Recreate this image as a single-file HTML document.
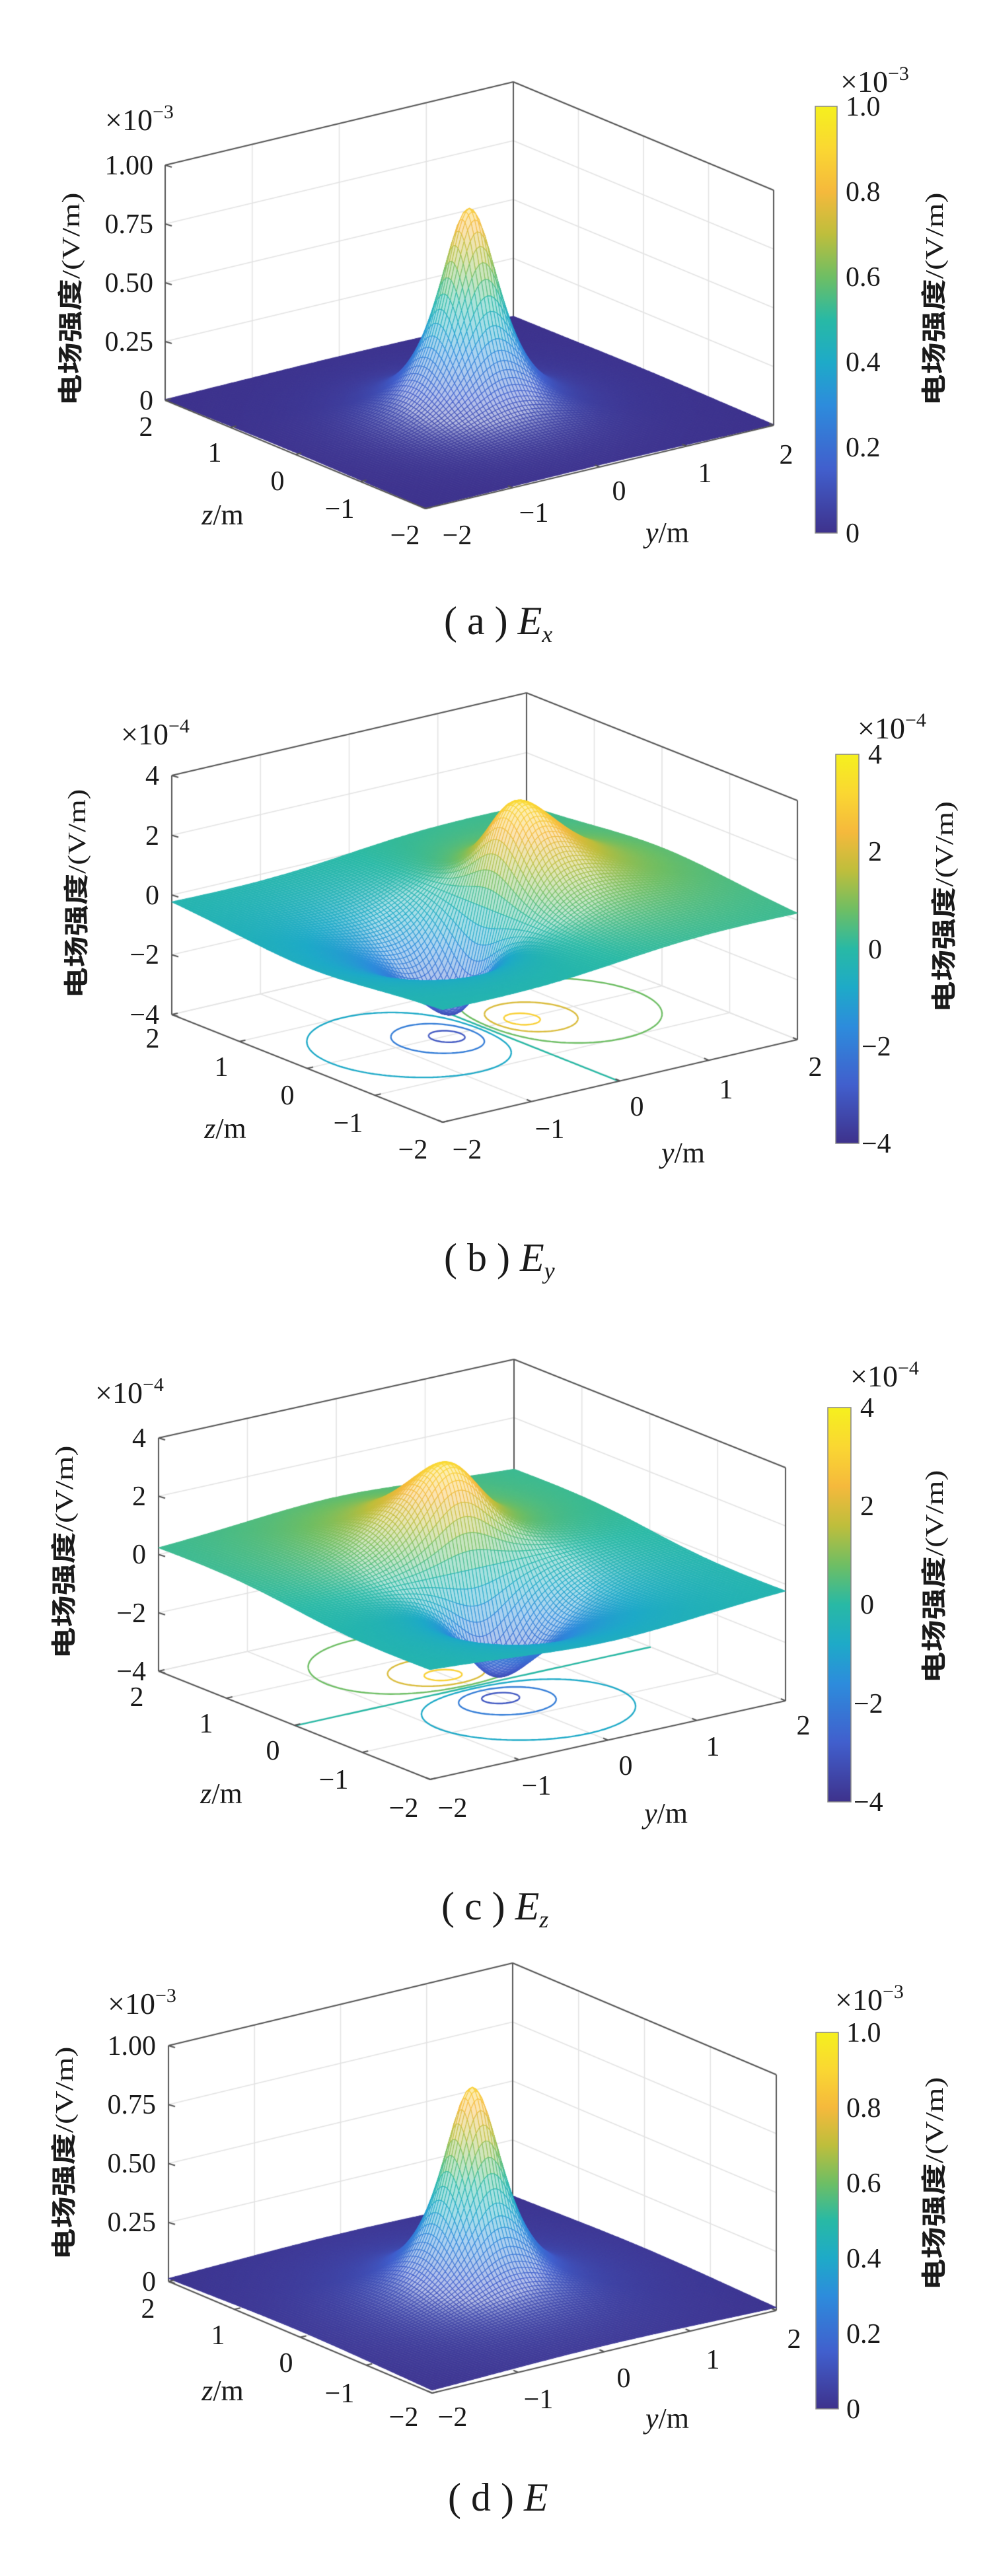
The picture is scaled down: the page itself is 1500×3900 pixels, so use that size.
<!DOCTYPE html>
<html><head><meta charset="utf-8">
<style>
html,body{margin:0;padding:0;background:#fff;}
#wrap{position:relative;width:1500px;height:3900px;overflow:hidden;}
canvas,svg{position:absolute;left:0;top:0;}
text{font-family:"Liberation Serif","Noto Serif CJK SC",serif;fill:#1a1a1a;}
.cj{font-family:"Liberation Sans","Noto Sans CJK SC",sans-serif;font-weight:bold;}
</style></head>
<body><div id="wrap">
<canvas id="c" width="1500" height="3900"></canvas>
<svg id="s" width="1500" height="3900" xmlns="http://www.w3.org/2000/svg">
<defs>
<linearGradient id="par" x1="0" y1="1" x2="0" y2="0">
<stop offset="0" stop-color="rgb(62,50,140)"/>
<stop offset="0.15" stop-color="rgb(65,95,205)"/>
<stop offset="0.3" stop-color="rgb(45,140,220)"/>
<stop offset="0.4" stop-color="rgb(30,170,200)"/>
<stop offset="0.5" stop-color="rgb(40,185,165)"/>
<stop offset="0.6" stop-color="rgb(110,190,100)"/>
<stop offset="0.7" stop-color="rgb(190,190,60)"/>
<stop offset="0.8" stop-color="rgb(245,185,60)"/>
<stop offset="0.9" stop-color="rgb(250,215,50)"/>
<stop offset="1" stop-color="rgb(245,240,30)"/>
</linearGradient>
</defs>

<rect x="1234" y="161" width="33" height="646" fill="url(#par)" stroke="#888" stroke-width="1.5"/>
<rect x="1265" y="1142" width="35" height="589" fill="url(#par)" stroke="#888" stroke-width="1.5"/>
<rect x="1253" y="2131" width="35" height="597" fill="url(#par)" stroke="#888" stroke-width="1.5"/>
<rect x="1235" y="3077" width="34" height="570" fill="url(#par)" stroke="#888" stroke-width="1.5"/>

<g font-size="42">
<text x="1280" y="175">1.0</text><text x="1280" y="304">0.8</text><text x="1280" y="433">0.6</text>
<text x="1280" y="562">0.4</text><text x="1280" y="691">0.2</text><text x="1280" y="821">0</text>
<text x="1314" y="1156">4</text><text x="1314" y="1303">2</text><text x="1314" y="1451">0</text>
<text x="1304" y="1598">−2</text><text x="1304" y="1745">−4</text>
<text x="1302" y="2145">4</text><text x="1302" y="2294">2</text><text x="1302" y="2443">0</text>
<text x="1292" y="2593">−2</text><text x="1292" y="2742">−4</text>
<text x="1281" y="3091">1.0</text><text x="1281" y="3205">0.8</text><text x="1281" y="3319">0.6</text>
<text x="1281" y="3433">0.4</text><text x="1281" y="3547">0.2</text><text x="1281" y="3661">0</text>
</g>

<g font-size="46">
<text x="1272" y="139">×10<tspan font-size="30" dy="-18">−3</tspan></text>
<text x="159" y="197">×10<tspan font-size="30" dy="-18">−3</tspan></text>
<text x="1298" y="1118">×10<tspan font-size="30" dy="-18">−4</tspan></text>
<text x="183" y="1127">×10<tspan font-size="30" dy="-18">−4</tspan></text>
<text x="1287" y="2099">×10<tspan font-size="30" dy="-18">−4</tspan></text>
<text x="144" y="2124">×10<tspan font-size="30" dy="-18">−4</tspan></text>
<text x="1264" y="3043">×10<tspan font-size="30" dy="-18">−3</tspan></text>
<text x="163" y="3049">×10<tspan font-size="30" dy="-18">−3</tspan></text>
</g>

<g font-size="42" text-anchor="end">
<text x="232" y="264">1.00</text><text x="232" y="353">0.75</text><text x="232" y="442">0.50</text><text x="232" y="531">0.25</text><text x="232" y="620">0</text>
<text x="241" y="1188">4</text><text x="241" y="1279">2</text><text x="241" y="1369">0</text><text x="241" y="1459">−2</text><text x="241" y="1550">−4</text>
<text x="221" y="2191">4</text><text x="221" y="2279">2</text><text x="221" y="2367">0</text><text x="221" y="2456">−2</text><text x="221" y="2544">−4</text>
<text x="236" y="3111">1.00</text><text x="236" y="3200">0.75</text><text x="236" y="3289">0.50</text><text x="236" y="3378">0.25</text><text x="236" y="3468">0</text>
</g>

<g font-size="42" text-anchor="middle">
<text x="221" y="660">2</text><text x="325" y="699">1</text><text x="420" y="742">0</text><text x="514" y="784">−1</text><text x="613" y="824">−2</text>
<text x="692" y="824">−2</text><text x="808" y="790">−1</text><text x="937" y="757">0</text><text x="1067" y="730">1</text><text x="1190" y="702">2</text>
<text x="231" y="1586">2</text><text x="335" y="1629">1</text><text x="435" y="1672">0</text><text x="527" y="1714">−1</text><text x="625" y="1754">−2</text>
<text x="707" y="1754">−2</text><text x="832" y="1723">−1</text><text x="964" y="1689">0</text><text x="1099" y="1663">1</text><text x="1234" y="1629">2</text>
<text x="207" y="2583">2</text><text x="312" y="2623">1</text><text x="413" y="2664">0</text><text x="505" y="2708">−1</text><text x="611" y="2751">−2</text>
<text x="685" y="2751">−2</text><text x="812" y="2717">−1</text><text x="947" y="2687">0</text><text x="1079" y="2658">1</text><text x="1216" y="2626">2</text>
<text x="224" y="3509">2</text><text x="330" y="3549">1</text><text x="433" y="3591">0</text><text x="514" y="3637">−1</text><text x="611" y="3673">−2</text>
<text x="685" y="3673">−2</text><text x="815" y="3646">−1</text><text x="944" y="3614">0</text><text x="1079" y="3586">1</text><text x="1202" y="3555">2</text>
</g>
<g font-size="44" text-anchor="middle">
<text x="337" y="794"><tspan font-style="italic">z</tspan>/m</text>
<text x="1010" y="821"><tspan font-style="italic">y</tspan>/m</text>
<text x="341" y="1723"><tspan font-style="italic">z</tspan>/m</text>
<text x="1034" y="1760"><tspan font-style="italic">y</tspan>/m</text>
<text x="335" y="2730"><tspan font-style="italic">z</tspan>/m</text>
<text x="1008" y="2760"><tspan font-style="italic">y</tspan>/m</text>
<text x="337" y="3634"><tspan font-style="italic">z</tspan>/m</text>
<text x="1010" y="3676"><tspan font-style="italic">y</tspan>/m</text>
</g>

<g font-size="38" text-anchor="middle">
<text transform="translate(120,453) rotate(-90)" textLength="323" lengthAdjust="spacingAndGlyphs"><tspan class="cj">电场强度</tspan>/(V/m)</text>
<text transform="translate(1427,453) rotate(-90)" textLength="323" lengthAdjust="spacingAndGlyphs"><tspan class="cj">电场强度</tspan>/(V/m)</text>
<text transform="translate(129,1353) rotate(-90)" textLength="317" lengthAdjust="spacingAndGlyphs"><tspan class="cj">电场强度</tspan>/(V/m)</text>
<text transform="translate(1442,1373) rotate(-90)" textLength="320" lengthAdjust="spacingAndGlyphs"><tspan class="cj">电场强度</tspan>/(V/m)</text>
<text transform="translate(110,2350) rotate(-90)" textLength="323" lengthAdjust="spacingAndGlyphs"><tspan class="cj">电场强度</tspan>/(V/m)</text>
<text transform="translate(1427,2387) rotate(-90)" textLength="323" lengthAdjust="spacingAndGlyphs"><tspan class="cj">电场强度</tspan>/(V/m)</text>
<text transform="translate(110,3260) rotate(-90)" textLength="323" lengthAdjust="spacingAndGlyphs"><tspan class="cj">电场强度</tspan>/(V/m)</text>
<text transform="translate(1427,3306) rotate(-90)" textLength="323" lengthAdjust="spacingAndGlyphs"><tspan class="cj">电场强度</tspan>/(V/m)</text>
</g>

<g font-size="60">
<text x="672" y="960">( a ) <tspan font-style="italic">E</tspan><tspan font-style="italic" font-size="36" dy="12">x</tspan></text>
<text x="672" y="1924">( b ) <tspan font-style="italic">E</tspan><tspan font-style="italic" font-size="36" dy="12">y</tspan></text>
<text x="668" y="2906">( c ) <tspan font-style="italic">E</tspan><tspan font-style="italic" font-size="36" dy="12">z</tspan></text>
<text x="678" y="3801">( d ) <tspan font-style="italic">E</tspan></text>
</g>
</svg>
</div>
<script>
(function(){
var cv=document.getElementById('c'),ctx=cv.getContext('2d');
ctx.fillStyle='#fff';ctx.fillRect(0,0,1500,3900);
var stops=[[0,62,50,140],[0.15,65,95,205],[0.3,45,140,220],[0.4,30,170,200],[0.5,40,185,165],[0.6,110,190,100],[0.7,190,190,60],[0.8,245,185,60],[0.9,250,215,50],[1,245,240,30]];
function col(t){t=Math.max(0,Math.min(1,t));for(var i=1;i<stops.length;i++){if(t<=stops[i][0]){var a=stops[i-1],b=stops[i],f=(t-a[0])/(b[0]-a[0]);return [a[1]+f*(b[1]-a[1]),a[2]+f*(b[2]-a[2]),a[3]+f*(b[3]-a[3])];}}return [245,240,30];}
function rgb(c,k){k=k||0;return 'rgb('+Math.round(c[0]+(255-c[0])*k)+','+Math.round(c[1]+(255-c[1])*k)+','+Math.round(c[2]+(255-c[2])*k)+')';}
function ex(y,z){var r2=y*y+z*z;return 0.87/Math.pow(1+r2/0.2,1.5);}
function dip(q,y,z){var r2=y*y+z*z;return 3.3*q/Math.pow(r2+0.325,1.5)/1.186;}
var P=[
{F:[644,770],R:[1171,644],L:[250,606],H:356,w0:0,w1:1,t:[0,0.25,0.5,0.75,1],f:ex,cont:null},
{F:[670,1699],R:[1207,1574],L:[260,1536],H:362,w0:-4,w1:4,t:[-4,-2,0,2,4],f:function(y,z){return dip(y,y,z);},cont:[-3,-2,-0.8,0,0.8,2,3]},
{F:[651,2694],R:[1189,2575],L:[240,2530],H:353,w0:-4,w1:4,t:[-4,-2,0,2,4],f:function(y,z){return dip(z,y,z);},cont:[-3,-2,-0.8,0,0.8,2,3]},
{F:[654,3623],R:[1175,3498],L:[255,3454],H:357,w0:0,w1:1,t:[0,0.25,0.5,0.75,1],f:function(y,z){return 0.85/Math.pow(1+(y*y+z*z)/0.2,1.5)+0.035*Math.exp(-(y*y+z*z)/6);},cont:null}
];
function pr(p,y,z,w){var u=(y+2)/4,v=(z+2)/4,h=(w-p.w0)/(p.w1-p.w0);
return [p.F[0]+u*(p.R[0]-p.F[0])+v*(p.L[0]-p.F[0]), p.F[1]+u*(p.R[1]-p.F[1])+v*(p.L[1]-p.F[1])-h*p.H];}
function line(a,b,c,w){ctx.strokeStyle=c;ctx.lineWidth=w;ctx.beginPath();ctx.moveTo(a[0],a[1]);ctx.lineTo(b[0],b[1]);ctx.stroke();}
P.forEach(function(p){
  var g='#e3e3e3',w0=p.w0,w1=p.w1;
  for(var k=-1;k<=1;k++){
    line(pr(p,k,2,w0),pr(p,k,2,w1),g,1.6);
    line(pr(p,2,k,w0),pr(p,2,k,w1),g,1.6);
    line(pr(p,k,-2,w0),pr(p,k,2,w0),g,1.6);
    line(pr(p,-2,k,w0),pr(p,2,k,w0),g,1.6);
  }
  p.t.forEach(function(t){line(pr(p,-2,2,t),pr(p,2,2,t),g,1.6);line(pr(p,2,2,t),pr(p,2,-2,t),g,1.6);});
  line(pr(p,-2,2,w0),pr(p,2,2,w0),g,1.6);line(pr(p,2,2,w0),pr(p,2,-2,w0),g,1.6);
  var e='#555';
  line(pr(p,-2,2,w0),pr(p,-2,2,w1),e,2);line(pr(p,2,2,w0),pr(p,2,2,w1),e,2);line(pr(p,2,-2,w0),pr(p,2,-2,w1),e,2);
  line(pr(p,-2,2,w1),pr(p,2,2,w1),e,2);line(pr(p,2,2,w1),pr(p,2,-2,w1),e,2);
  p.t.forEach(function(t){var a=pr(p,-2,2,t);line(a,[a[0]+10,a[1]+3],e,2);});
  if(p.cont){
    var M=120,h=4/M,vals=[];
    for(var i=0;i<=M;i++){vals[i]=[];for(var j=0;j<=M;j++){vals[i][j]=p.f(-2+i*h+h*0.37,-2+j*h+h*0.41);}}
    p.cont.forEach(function(lv){
      ctx.strokeStyle=rgb(col((lv-w0)/(w1-w0)));ctx.lineWidth=2.4;ctx.beginPath();
      for(var i=0;i<M;i++)for(var j=0;j<M;j++){
        var c=[[i,j],[i+1,j],[i+1,j+1],[i,j+1]],pts=[];
        for(var m=0;m<4;m++){var A=c[m],B=c[(m+1)%4],va=vals[A[0]][A[1]]-lv,vb=vals[B[0]][B[1]]-lv;
          if((va<0)!=(vb<0)){var f=va/(va-vb);pts.push([A[0]+f*(B[0]-A[0]),A[1]+f*(B[1]-A[1])]);}}
        for(var q=0;q+1<pts.length;q+=2){var a=pr(p,-2+pts[q][0]*h,-2+pts[q][1]*h,w0),b=pr(p,-2+pts[q+1][0]*h,-2+pts[q+1][1]*h,w0);ctx.moveTo(a[0],a[1]);ctx.lineTo(b[0],b[1]);}
      }
      ctx.stroke();
    });
  }
  var N=100,s=4/N,Z=[],Q=[];
  for(var i=0;i<=N;i++){Z[i]=[];Q[i]=[];for(var j=0;j<=N;j++){var y=-2+i*s,z=-2+j*s,v=p.f(y,z);Z[i][j]=v;Q[i][j]=pr(p,y,z,v);}}
  var a0=pr(p,0,0,w0),a1=pr(p,s,0,w0),a2=pr(p,0,s,w0);
  var flatA=Math.abs((a1[0]-a0[0])*(a2[1]-a0[1])-(a1[1]-a0[1])*(a2[0]-a0[0]));
  ctx.lineJoin='round';
  for(var d=2*N-2;d>=0;d--){
    for(var i=Math.max(0,d-N+1);i<=Math.min(N-1,d);i++){
      var j=d-i;
      var p0=Q[i][j],p1=Q[i+1][j],p2=Q[i+1][j+1],p3=Q[i][j+1];
      var v=(Z[i][j]+Z[i+1][j]+Z[i+1][j+1]+Z[i][j+1])/4;
      var c=col((v-w0)/(w1-w0));
      var ar=Math.abs((p2[0]-p0[0])*(p3[1]-p1[1])-(p2[1]-p0[1])*(p3[0]-p1[0]))/2;
      var k=Math.max(0,Math.min(0.6,(ar/flatA-1)*0.4));
      ctx.beginPath();ctx.moveTo(p0[0],p0[1]);ctx.lineTo(p1[0],p1[1]);ctx.lineTo(p2[0],p2[1]);ctx.lineTo(p3[0],p3[1]);ctx.closePath();
      ctx.fillStyle=rgb(c,k);ctx.fill();
      ctx.strokeStyle=rgb(c,k*0.1);ctx.lineWidth=1.1;ctx.stroke();
    }
  }
  line(pr(p,-2,-2,w0),pr(p,-2,2,w0),e,2);line(pr(p,-2,-2,w0),pr(p,2,-2,w0),e,2);
  for(var k=-2;k<=2;k++){var a=pr(p,-2,k,w0);line(a,[a[0]+9,a[1]-2],e,2);var b=pr(p,k,-2,w0);line(b,[b[0]-7,b[1]-3],e,2);}
});
})();
</script>
</body></html>
